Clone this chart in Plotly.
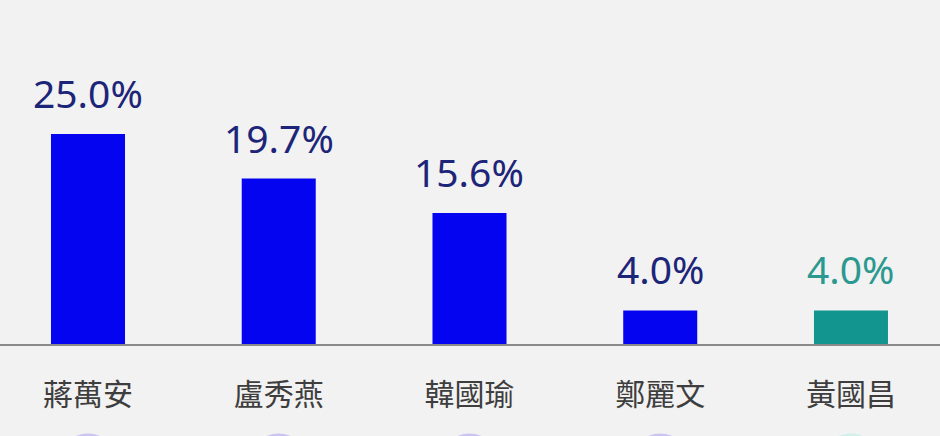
import plotly.graph_objects as go

categories = ["蔣萬安", "盧秀燕", "韓國瑜", "鄭麗文", "黃國昌"]
values = [25.0, 19.7, 15.6, 4.0, 4.0]
bar_colors = ["#0404f0", "#0404f0", "#0404f0", "#0404f0", "#13958f"]
label_colors = ["#1c2578", "#1c2578", "#1c2578", "#1c2578", "#2b9990"]
dot_colors = ["#b2a6f0", "#b2a6f0", "#b2a6f0", "#b2a6f0", "#bdeee4"]

x = list(range(len(categories)))

fig = go.Figure()
fig.add_trace(go.Bar(
    x=x, y=values, width=0.388,
    marker=dict(color=bar_colors, line=dict(width=0)),
    hoverinfo="skip",
))

for i, (v, c) in enumerate(zip(values, label_colors)):
    fig.add_annotation(
        x=i, y=v, text=f"{v:.1f}%", showarrow=False,
        yanchor="bottom", yshift=13,
        font=dict(family="Noto Sans, DejaVu Sans, sans-serif", size=39, color=c),
    )
    # partial icon peeking in at the bottom edge
    fig.add_shape(
        type="circle", xref="x", yref="paper",
        x0=i - 0.157, x1=i + 0.157, y0=-0.435, y1=-0.26,
        fillcolor=dot_colors[i], opacity=0.6, line=dict(width=0),
        layer="above",
    )

fig.update_layout(
    width=940, height=436,
    margin=dict(l=0, r=0, t=0, b=92),
    paper_bgcolor="#f2f2f2", plot_bgcolor="#f2f2f2",
    showlegend=False,
    xaxis=dict(
        range=[-0.4613, 4.4667],
        tickmode="array", tickvals=x, ticktext=categories,
        tickfont=dict(family="Noto Sans CJK TC, sans-serif", size=30, color="#3e3e3e"),
        ticks="outside", ticklen=23, tickcolor="rgba(0,0,0,0)",
        showline=True, linecolor="#8a8a8a", linewidth=2,
        showgrid=False, zeroline=False,
    ),
    yaxis=dict(
        range=[0, 40.95], visible=False, showgrid=False, zeroline=False,
    ),
)

fig.write_html(
    "out.html",
    config={"displayModeBar": False},
    post_script="document.body.style.margin='0';document.body.style.background='#f2f2f2';",
)
